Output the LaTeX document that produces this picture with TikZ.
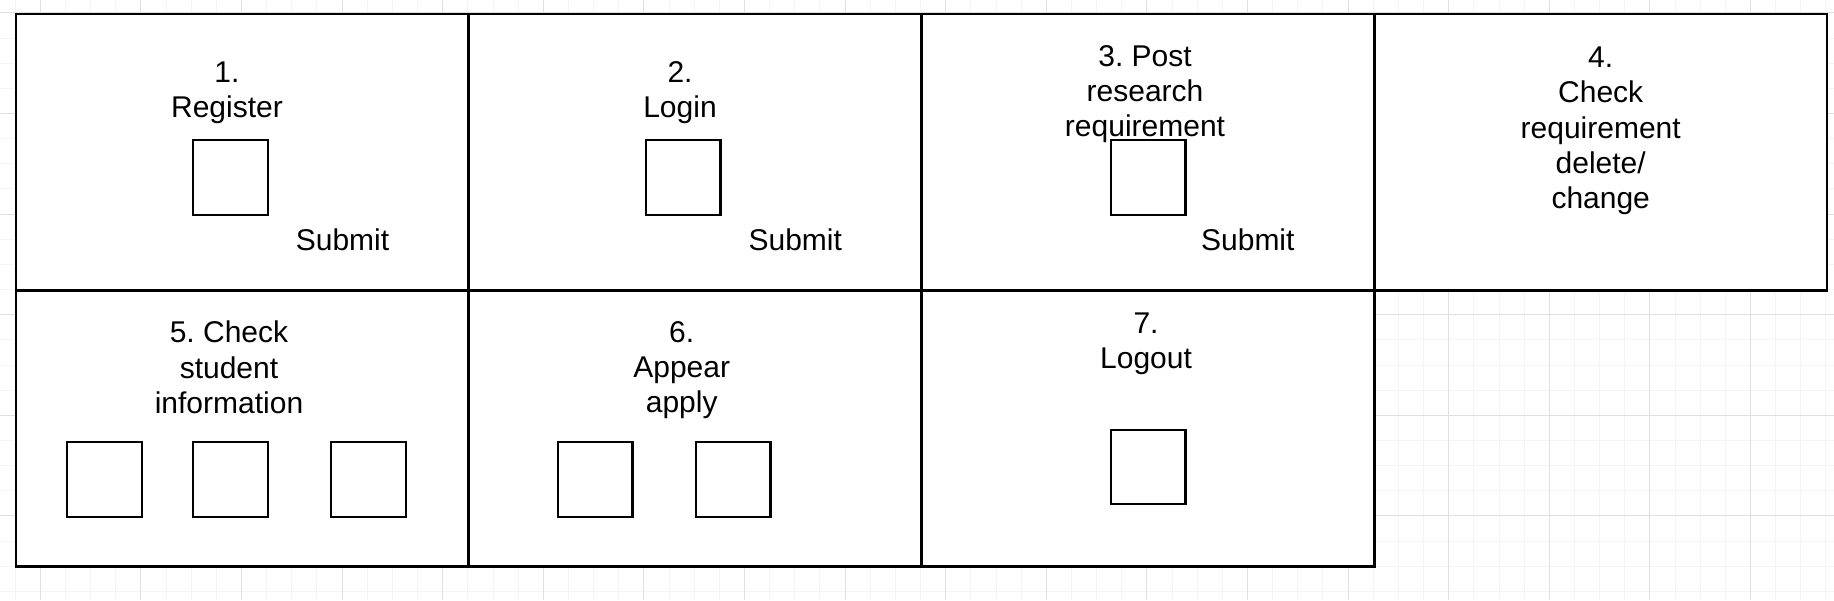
\documentclass[tikz,border=0pt]{standalone}
\usepackage{fontspec}
\setmainfont{Liberation Sans}
\frenchspacing
\definecolor{gridfine}{RGB}{245,245,245}
\definecolor{gridmajor}{RGB}{224,224,224}
\begin{document}
\begin{tikzpicture}[x=0.5pt,y=-0.5pt,
  cell/.style={draw=black, fill=white, line width=1.4pt, minimum width=226.375pt, minimum height=138.15pt, inner sep=0pt, outer sep=0pt},
  box/.style={draw=black, fill=white, line width=1.1pt, minimum width=37.2pt, minimum height=37.2pt, inner sep=0pt},
  lbl/.style={align=center, font=\fontsize{15}{17.6}\selectfont\frenchspacing, inner sep=0pt, anchor=north},
  sub/.style={font=\fontsize{15}{17.6}\selectfont, inner sep=0pt, anchor=base},
  gfine/.style={draw=gridfine, line width=0.5pt},
  gmajor/.style={draw=gridmajor, line width=0.5pt}]
\useasboundingbox (0,0) rectangle (1834,600);
\fill[white] (0,0) rectangle (1834,600);
% background grid
\foreach \i in {0,...,72} {\draw[gfine] ({15.15+25.15*\i},0) -- ({15.15+25.15*\i},600);}
\foreach \j in {0,...,23} {\draw[gfine] (0,{12.9+25.15*\j}) -- (1834,{12.9+25.15*\j});}
\foreach \i in {0,...,17} {\draw[gmajor] ({40.3+100.6*\i},0) -- ({40.3+100.6*\i},600);}
\foreach \j in {0,...,5} {\draw[gmajor] (0,{12.9+100.6*\j}) -- (1834,{12.9+100.6*\j});}
% cells
\node[cell] (c1) at (242.375,152.15) {};
\node[cell] (c2) at (695.125,152.15) {};
\node[cell] (c3) at (1147.875,152.15) {};
\node[cell] (c4) at (1600.625,152.15) {};
\node[cell] (c5) at (242.375,428.45) {};
\node[cell] (c6) at (695.125,428.45) {};
\node[cell] (c7) at (1147.875,428.45) {};
% labels
\node[lbl] (t1) at (227,61) {1.\\Register};
\node[lbl] (t2) at (680,61) {2.\\Login};
\node[lbl] (t3) at (1145,45) {3. Post\\research\\requirement};
\node[lbl] (t4) at (1600.7,46.7) {4.\\Check\\requirement\\delete/\\change};
\node[lbl] (t5) at (229,320.7) {5. Check\\student\\information};
\node[lbl] (t6) at (681.7,320.7) {6.\\Appear\\apply};
\node[lbl] (t7) at (1146,312.3) {7.\\Logout};
% submit labels
\node[sub] (s1) at (342.5,250) {Submit};
\node[sub] (s2) at (795.3,250) {Submit};
\node[sub] (s3) at (1247.8,250) {Submit};
% input boxes
\node[box] (b1) at (230.5,177.5) {};
\node[box] (b2) at (683.2,177.5) {};
\node[box] (b3) at (1148.2,177.5) {};
\node[box] (b5a) at (104.5,479.5) {};
\node[box] (b5b) at (230.5,479.5) {};
\node[box] (b5c) at (368.5,479.5) {};
\node[box] (b6a) at (595.2,479.5) {};
\node[box] (b6b) at (733.3,479.5) {};
\node[box] (b7) at (1148.2,466.8) {};
\end{tikzpicture}
\end{document}
